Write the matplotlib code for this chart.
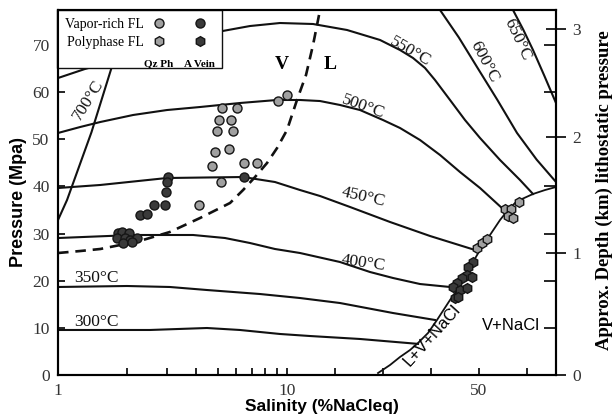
import numpy as np
import matplotlib
matplotlib.use("Agg")
import matplotlib.pyplot as plt
from matplotlib.lines import Line2D
from matplotlib.patches import Rectangle
from matplotlib.legend_handler import HandlerTuple
from matplotlib.ticker import FixedLocator, NullFormatter, FixedFormatter

SERIF = "Liberation Serif"
SANS = "Liberation Sans"
plt.rcParams["font.family"] = [SERIF, "DejaVu Serif"]

# ---------------- data (salinity wt% NaCl eq, pressure MPa) ----------------
iso300_sal = [1.0, 2.52, 4.47, 6.23, 9.32, 14.79, 25.21, 37.3]
iso300_p = [9.55, 9.55, 9.97, 9.55, 8.70, 8.27, 7.64, 6.6]

iso350_sal = [1.0, 2.0, 3.08, 4.47, 7.62, 12.71, 21.04, 32.08, 40.83]
iso350_p = [18.67, 18.88, 18.67, 18.03, 17.18, 16.33, 15.27, 13.15, 11.67]

iso400_sal = [1.0, 2.13, 3.89, 5.36, 6.89, 8.86, 12.71, 21.04, 27.29, 32.08, 37.71, 43.96]
iso400_p = [29.06, 29.7, 29.7, 29.06, 28.0, 26.73, 25.88, 23.97, 21.85, 20.58, 19.30, 18.67]

iso450_sal = [1.0, 1.53, 2.99, 6.43, 8.86, 12.71, 16.88, 23.13, 31.46, 39.79, 49.17]
iso450_p = [39.67, 40.31, 41.79, 42.0, 40.94, 39.24, 37.97, 35.64, 32.46, 29.49, 26.52]

iso500_sal = [1.0, 1.25, 1.53, 2.13, 2.99, 4.17, 6.23, 9.05, 12.71, 16.88, 21.04, 25.21,
              30.0, 33.54, 37.71, 41.88, 46.04, 50.21, 55.0]
iso500_p = [51.34, 52.61, 53.67, 55.16, 56.21, 56.85, 57.70, 58.34, 58.34, 58.12, 57.28, 56.21,
            54.09, 52.40, 49.85, 46.67, 43.06, 39.67, 35.21]

iso550_sal = [1.0, 1.31, 1.69, 2.79, 4.95, 6.89, 9.32, 15.42, 22.5, 29.38, 33.54, 36.25,
              38.75, 40.83, 43.96, 47.08, 50.21, 54.38, 58.54, 61.25]
iso550_p = [63.0, 64.91, 66.4, 69.58, 72.76, 74.03, 74.67, 74.46, 73.19, 71.07, 68.94, 67.25,
            65.13, 62.58, 58.34, 54.09, 50.28, 45.61, 41.37, 38.4]

iso600_sal = [41.88, 45.8, 49.58, 53.8, 57.92, 62.0, 66.04]
iso600_p = [77.43, 71.6, 65.34, 58.4, 51.34, 45.7, 40.94]

iso650_sal = [57.08, 59.2, 61.25, 63.6, 66.04]
iso650_p = [77.43, 73.3, 68.94, 63.5, 57.7]

iso700_sal = [1.0, 1.095, 1.40, 1.739, 2.084]
iso700_p = [32.88, 37.12, 51.5, 66.19, 77.43]

halite_sal = [28.96, 31.46, 33.54, 35.63, 37.29, 39.38, 41.25, 43.96, 45.42, 47.08, 48.75, 50.21,
              52.29, 54.38, 56.04, 57.5, 58.96, 61.25, 63.75, 66.04]
halite_p = [0.42, 2.12, 3.82, 5.30, 6.79, 8.91, 11.67, 15.91, 18.03, 21.0, 23.97, 26.52,
            29.70, 32.88, 35.0, 36.49, 37.34, 38.4, 39.24, 39.88]

crit_sal = [1.0, 1.25, 1.53, 1.87, 2.35, 3.08, 4.17, 5.64, 6.43, 7.25, 8.18, 9.05, 10.0,
            12.08, 13.96, 15.42, 16.88]
crit_p = [25.88, 26.30, 26.73, 27.58, 28.64, 30.34, 33.3, 36.49, 39.24, 42.0, 44.97, 48.15,
          51.97, 58.34, 63.64, 70.0, 77.43]

# Vapor-rich FL, quartz phenocryst (light circles)
vq_sal = [5.20, 6.05, 5.05, 5.70, 4.95, 5.81, 4.85, 5.58, 4.71, 6.49, 7.40, 5.15, 9.14, 10.0, 4.13]
vq_p = [56.64, 56.64, 54.09, 54.09, 51.76, 51.76, 47.31, 47.94, 44.34, 44.97, 44.97, 40.94, 58.12, 59.4, 36.06]

# Vapor-rich FL, A vein (dark circles)
va_sal = [3.02, 2.99, 2.96, 2.63, 2.93, 2.28, 2.45, 6.49,
          1.83, 1.90, 2.04, 1.81, 1.96, 2.06, 2.21, 1.92, 2.10]
va_p = [42.0, 40.94, 38.82, 36.06, 36.06, 33.94, 34.15, 42.0,
        30.12, 30.34, 30.12, 29.06, 29.06, 28.64, 29.06, 28.0, 28.21]

# Polyphase FL, quartz phenocryst (light hexagons)
pq_sal = [55.42, 56.67, 58.33, 56.04, 57.08, 49.58, 50.63, 51.67]
pq_p = [35.21, 35.21, 36.7, 33.73, 33.3, 26.94, 28.0, 28.85]

# Polyphase FL, A vein (dark hexagons)
pa_sal = [48.75, 47.71, 47.5, 46.46, 45.42, 44.58, 46.04, 47.5, 48.54, 45.0, 45.63]
pa_p = [23.97, 22.91, 21.21, 20.58, 19.52, 18.67, 18.03, 18.46, 20.79, 16.33, 16.55]

x_major_ticks = [1, 10, 50]
x_major_labels = ["1", "10", "50"]
x_minor_ticks = [2, 3, 4, 5, 6, 7, 8, 9, 20, 30, 40, 60]
y_ticks = [0, 10, 20, 30, 40, 50, 60, 70]
depth_km_labels = ["0", "1", "2", "3"]
depth_km_pressure = [0, 25.9, 50.5, 73.4]
depth_minor_pressure = [10, 20, 30, 40, 60, 70]

# ---------------- scale: log up to 10, linear above ----------------
K = 48.0 / 229.0 / 10.0


def fwd(x):
    x = np.asarray(x, dtype=float)
    return np.where(x <= 10, np.log10(np.clip(x, 1e-6, None)), 1 + (x - 10) * K)


def inv(u):
    u = np.asarray(u, dtype=float)
    return np.where(u <= 1, 10 ** np.minimum(u, 1), 10 + (u - 1) / K)


LIGHT = "#a0a0a0"
DARK = "#3a3a3a"
EDGE = "#151515"
LINE = "#111111"

fig = plt.figure(figsize=(6.16, 4.18), dpi=100)
ax = fig.add_axes([58 / 616, 1 - 375 / 418, 498 / 616, 365 / 418])
ax.set_xscale("function", functions=(fwd, inv))
ax.set_xlim(1, 66.04)
ax.set_ylim(0, 77.43)

lw = 1.5
for s, p in [(iso300_sal, iso300_p), (iso350_sal, iso350_p), (iso400_sal, iso400_p),
             (iso450_sal, iso450_p), (iso500_sal, iso500_p), (iso550_sal, iso550_p),
             (iso600_sal, iso600_p), (iso650_sal, iso650_p), (iso700_sal, iso700_p)]:
    ax.plot(s, p, color=LINE, lw=lw, zorder=2, solid_joinstyle="round")
ax.plot(halite_sal, halite_p, color=LINE, lw=1.3, zorder=2, solid_joinstyle="round")
ax.plot(crit_sal, crit_p, color=LINE, lw=1.9, ls=(0, (4, 2.6)), zorder=2)

mk = dict(ls="none", mec=EDGE, mew=1.0, zorder=3)
ax.plot(vq_sal, vq_p, marker="o", ms=6.5, mfc=LIGHT, **mk)
ax.plot(va_sal, va_p, marker="o", ms=6.5, mfc=DARK, **mk)
ax.plot(pq_sal, pq_p, marker="h", ms=7, mfc=LIGHT, **mk)
ax.plot(pa_sal, pa_p, marker="h", ms=7, mfc=DARK, **mk)

# isotherm labels
tk = dict(family=SERIF, fontsize=12.5, ha="center", va="center", rotation_mode="anchor", color="#111")
ax.text(1.352, 58.3, "700°C", rotation=58, **tk)
ax.text(35.6, 68.5, "550°C", rotation=-30, **tk)
ax.text(51.0, 66.4, "600°C", rotation=-62, **tk)
ax.text(57.9, 71.1, "650°C", rotation=-65, **tk)
ax.text(25.8, 56.9, "500°C", rotation=-20, **tk)
ax.text(25.8, 37.8, "450°C", rotation=-13, **tk)
ax.text(25.8, 23.8, "400°C", rotation=-8, **tk)
ax.text(1.465, 20.6, "350°C", rotation=0, **tk)
ax.text(1.465, 11.2, "300°C", rotation=0, **tk)
ax.text(9.5, 65.8, "V", family=SERIF, fontsize=14, fontweight="bold", ha="center", va="center")
ax.text(18.96, 65.8, "L", family=SERIF, fontsize=14, fontweight="bold", ha="center", va="center")
ax.text(40.2, 8.5, "L+V+NaCl", family=SANS, fontsize=12, rotation=48, ha="center",
        va="center", rotation_mode="anchor")
ax.text(56.7, 10.4, "V+NaCl", family=SANS, fontsize=12, ha="center", va="center")

# axes cosmetics
for sp in ax.spines.values():
    sp.set_linewidth(1.5)
ax.xaxis.set_major_locator(FixedLocator(x_major_ticks))
ax.xaxis.set_major_formatter(FixedFormatter(x_major_labels))
ax.xaxis.set_minor_locator(FixedLocator(x_minor_ticks))
ax.xaxis.set_minor_formatter(NullFormatter())
ax.set_yticks(y_ticks)
ax.tick_params(axis="x", which="both", direction="in", length=5, width=1.2, pad=6,
               labelsize=12.5, labelcolor="#333")
ax.tick_params(axis="y", which="both", direction="in", length=5, width=1.2, pad=6,
               labelsize=12.5, labelcolor="#333")

ax.set_xlabel("Salinity (%NaCleq)", family=SANS, fontweight="bold", fontsize=12.5)
ax.xaxis.set_label_coords(0.53, -0.066)
ax.set_ylabel("Pressure (Mpa)", family=SANS, fontweight="bold", fontsize=13)
ax.yaxis.set_label_coords(-0.062, 0.475)

ax2 = ax.twinx()
ax2.set_ylim(ax.get_ylim())
for sp in ax2.spines.values():
    sp.set_linewidth(1.5)
ax2.yaxis.set_major_locator(FixedLocator(depth_km_pressure))
ax2.yaxis.set_major_formatter(FixedFormatter(depth_km_labels))
ax2.yaxis.set_minor_locator(FixedLocator(depth_minor_pressure))
ax2.yaxis.set_minor_formatter(NullFormatter())
ax2.tick_params(axis="y", which="major", direction="inout", length=15, width=1.2, pad=4,
                labelsize=12.5, labelcolor="#333")
ax2.tick_params(axis="y", which="minor", direction="in", length=9, width=1.2)
ax2.set_ylabel("Approx. Depth (km) lithostatic pressure", family=SERIF, fontweight="bold",
               fontsize=13.5)
ax2.yaxis.set_label_coords(1.08, 0.507)

# legend: white frame box, then frameless legend on top
ax.add_patch(Rectangle((-0.002, 0.841), 0.3313, 0.159, transform=ax.transAxes,
                       facecolor="white", edgecolor="#111", lw=1.0, zorder=4.8,
                       clip_on=False))
lc = Line2D([], [], ls="none", marker="o", ms=6.5, mfc=LIGHT, mec=EDGE, mew=1.0)
dc = Line2D([], [], ls="none", marker="o", ms=6.5, mfc=DARK, mec=EDGE, mew=1.0)
lh = Line2D([], [], ls="none", marker="h", ms=7, mfc=LIGHT, mec=EDGE, mew=1.0)
dh = Line2D([], [], ls="none", marker="h", ms=7, mfc=DARK, mec=EDGE, mew=1.0)
leg = ax.legend([(lc, dc), (lh, dh)], ["Vapor-rich FL", "Polyphase FL"],
                handler_map={tuple: HandlerTuple(ndivide=None, pad=2.3)},
                markerfirst=False, loc="upper left", bbox_to_anchor=(-0.002, 1.0),
                frameon=False, borderpad=0.55, labelspacing=0.4, handlelength=3.6,
                handletextpad=0.8, borderaxespad=0, prop={"family": SERIF, "size": 10})
leg.set_zorder(5)
ax.text(0.203, 0.852, "Qz Ph", transform=ax.transAxes, family=SERIF, fontsize=8,
        fontweight="bold", ha="center", va="center", zorder=6)
ax.text(0.285, 0.852, "A Vein", transform=ax.transAxes, family=SERIF, fontsize=8,
        fontweight="bold", ha="center", va="center", zorder=6)

fig.savefig("out.png", dpi=100)
